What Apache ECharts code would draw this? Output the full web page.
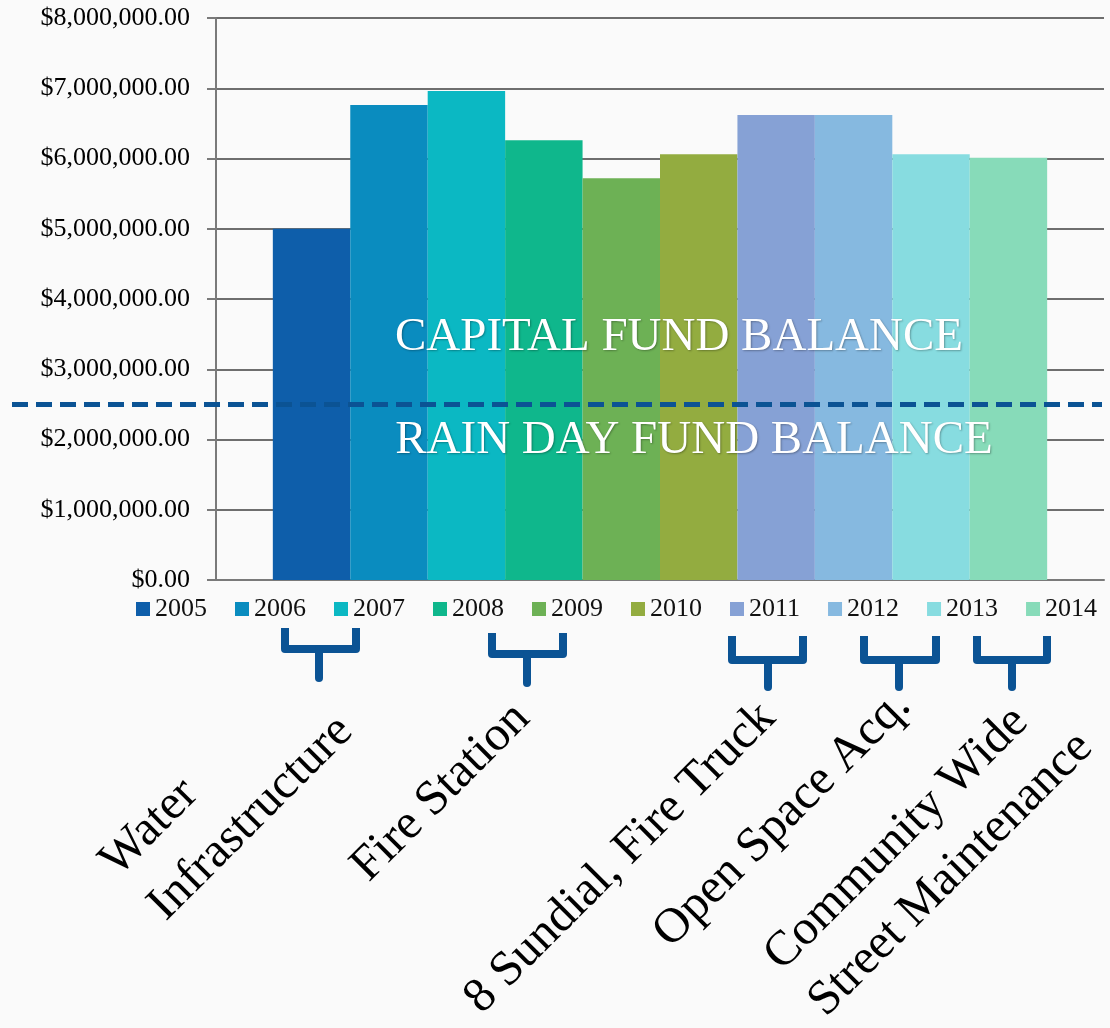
<!DOCTYPE html>
<html>
<head>
<meta charset="utf-8">
<script src="https://cdn.jsdelivr.net/npm/echarts@6/dist/echarts.min.js"></script>
<style>
  html, body { margin: 0; padding: 0; background: #fafafa; }
  #main { width: 1110px; height: 1028px; }
</style>
</head>
<body>
<div id="main"></div>
<script>
// years (one bar each) and fund balance values
var years = ["2005", "2006", "2007", "2008", "2009", "2010", "2011", "2012", "2013", "2014"];
var balances = [5000000, 6760000, 6960000, 6260000, 5720000, 6060000, 6620000, 6620000, 6060000, 6010000];
var barColors = ["#0e5eaa", "#0a8cbf", "#0bb8c3", "#0fb78c", "#6db155", "#93ac40", "#86a1d5", "#86b9e0", "#87dce0", "#87dbb9"];
var rainDayLine = 2500000;
var bandTitles = ["CAPITAL FUND BALANCE", "RAIN DAY FUND BALANCE"];
// project labels under the braces
var projectLabels = [
  ["Water", "Infrastructure"],
  ["Fire Station"],
  ["8 Sundial, Fire Truck"],
  ["Open Space Acq."],
  ["Community Wide", "Street Maintenance"]
];

var FONT = "'Liberation Serif', 'DejaVu Serif', serif";
var chart = echarts.init(document.getElementById("main"));

function money(v) {
  var parts = v.toFixed(2).split(".");
  return "$" + parts[0].replace(/\B(?=(\d{3})+$)/g, ",") + "." + parts[1];
}

var series = years.map(function (y, i) {
  return {
    name: y,
    type: "bar",
    data: [balances[i]],
    barGap: "0%",
    barCategoryGap: "12.8%",
    itemStyle: { color: barColors[i] }
  };
});

chart.setOption({
  animation: false,
  backgroundColor: "#fafafa",
  grid: { left: 216, right: 6, top: 18, bottom: 448 },
  legend: {
    data: years,
    left: 131,
    top: 591,
    itemWidth: 14,
    itemHeight: 14,
    itemGap: 28,
    icon: "rect",
    textStyle: { fontFamily: FONT, fontSize: 26, color: "#111" }
  },
  xAxis: {
    type: "category",
    data: [""],
    axisLine: { lineStyle: { color: "#7a7a7a", width: 2 } },
    axisTick: { show: false },
    axisLabel: { show: false }
  },
  yAxis: {
    type: "value",
    min: 0,
    max: 8000000,
    interval: 1000000,
    axisLine: { show: true, lineStyle: { color: "#7a7a7a", width: 2 } },
    axisTick: { show: true, length: 9, lineStyle: { color: "#7a7a7a", width: 2 } },
    splitLine: { lineStyle: { color: "#6e6e6e", width: 2 } },
    axisLabel: {
      margin: 26,
      fontFamily: FONT,
      fontSize: 26,
      color: "#000",
      formatter: money
    }
  },
  series: series
});

// dashed divider at the rain day level, placed through the y axis scale
var lineY = chart.convertToPixel({ yAxisIndex: 0 }, rainDayLine);

function brace(x1, x2, xc, top, mid, bottom) {
  return [
    {
      type: "polyline",
      shape: { points: [[x1, top], [x1, mid], [x2, mid], [x2, top]] },
      style: { stroke: "#0b5394", lineWidth: 8, fill: null, lineCap: "butt", lineJoin: "round" }
    },
    {
      type: "line",
      shape: { x1: xc, y1: mid, x2: xc, y2: bottom },
      style: { stroke: "#0b5394", lineWidth: 8, lineCap: "round" }
    }
  ];
}

var braces = [].concat(
  brace(285, 356, 319, 628, 649, 678),
  brace(492, 563, 527, 633, 654, 683),
  brace(732, 803, 768, 636, 660, 687),
  brace(864, 936, 899, 636, 660, 687),
  brace(977, 1047, 1012, 636, 660, 687)
);

// anchor (bottom-left of each rotated line)
var labelAnchors = [
  [[126, 886], [174, 930]],
  [[377, 891]],
  [[490, 1023]],
  [[679, 957]],
  [[790, 980], [834, 1026]]
];

var labelTexts = [];
projectLabels.forEach(function (lines, i) {
  lines.forEach(function (t, j) {
    labelTexts.push({
      type: "text",
      x: labelAnchors[i][j][0],
      y: labelAnchors[i][j][1],
      rotation: Math.PI / 4,
      style: {
        text: t,
        align: "left",
        verticalAlign: "bottom",
        fontFamily: FONT,
        fontSize: 49,
        fill: "#000"
      }
    });
  });
});

chart.setOption({
  graphic: [
    {
      type: "line",
      z: 100,
      shape: { x1: 12, y1: lineY, x2: 1102, y2: lineY },
      style: { stroke: "#0b5394", lineWidth: 5, lineDash: [16, 8] }
    },
    {
      type: "text",
      z: 100,
      x: 679,
      y: 338,
      style: {
        text: bandTitles[0],
        align: "center",
        verticalAlign: "middle",
        fontFamily: FONT,
        fontSize: 47,
        fill: "#fff",
        textShadowColor: "rgba(0,0,0,0.3)",
        textShadowBlur: 2,
        textShadowOffsetX: 1,
        textShadowOffsetY: 1
      }
    },
    {
      type: "text",
      z: 100,
      x: 694,
      y: 441,
      style: {
        text: bandTitles[1],
        align: "center",
        verticalAlign: "middle",
        fontFamily: FONT,
        fontSize: 47,
        fill: "#fff",
        textShadowColor: "rgba(0,0,0,0.3)",
        textShadowBlur: 2,
        textShadowOffsetX: 1,
        textShadowOffsetY: 1
      }
    }
  ].concat(braces).concat(labelTexts)
});
</script>
</body>
</html>
